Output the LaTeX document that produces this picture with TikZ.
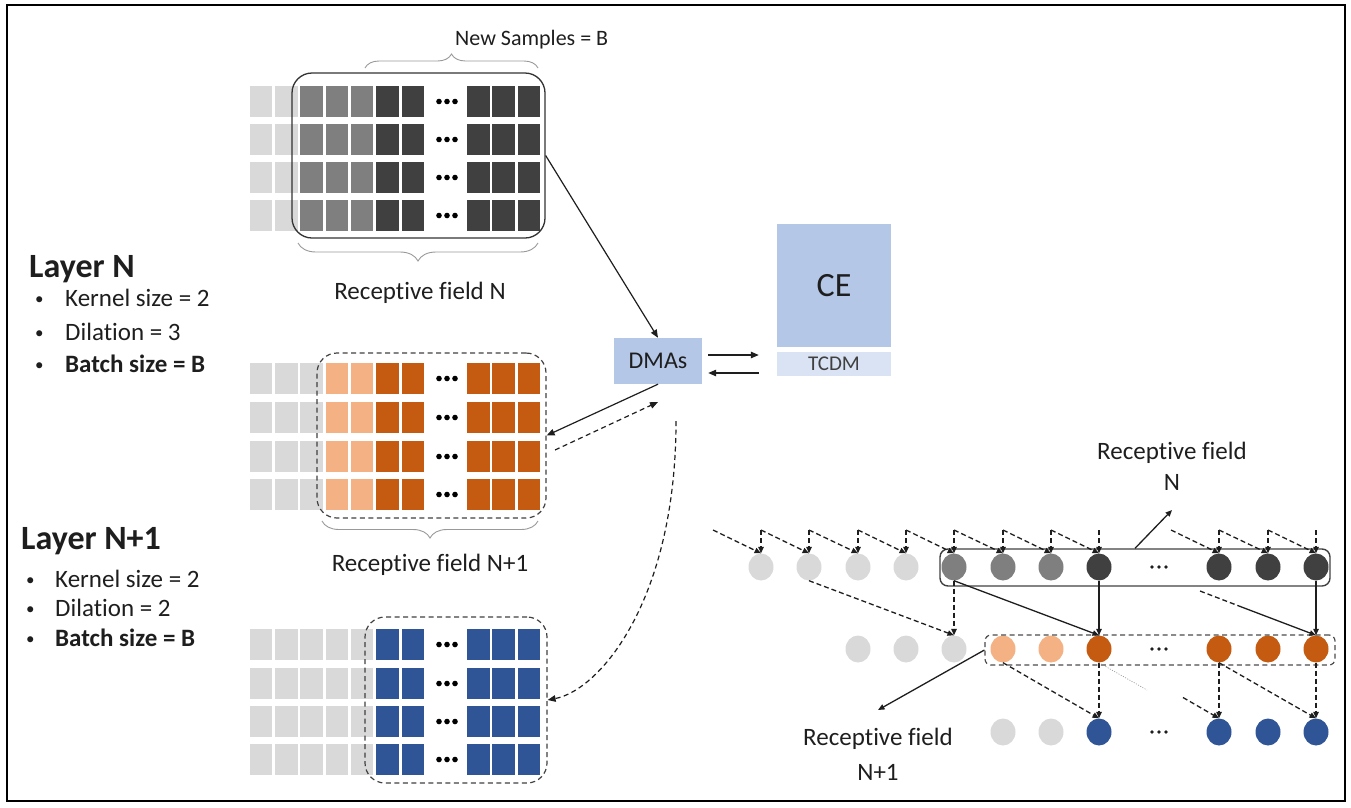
\documentclass[tikz,border=0pt]{standalone}
\usepackage{fontspec}
\setmainfont{Carlito}[Ligatures={NoCommon}]
\usetikzlibrary{arrows.meta,decorations.pathreplacing,shapes.geometric,calc}
\definecolor{lg}{HTML}{D9D9D9}
\definecolor{mg}{HTML}{7F7F7F}
\definecolor{dg}{HTML}{404040}
\definecolor{lo}{HTML}{F4B183}
\definecolor{do}{HTML}{C55A11}
\definecolor{bl}{HTML}{2F5597}
\definecolor{ceb}{HTML}{B4C7E7}
\definecolor{tcb}{HTML}{DAE3F3}
\definecolor{ink}{HTML}{1E1E1E}
\begin{document}
\begin{tikzpicture}[x=1pt,y=-1pt,
  cell/.style={rectangle,minimum width=22.5pt,minimum height=31pt,inner sep=0pt,draw=none,anchor=north west},
  gnode/.style={ellipse,minimum width=25pt,minimum height=27pt,inner sep=0pt,draw=none},
  txt/.style={inner sep=0pt,font=\fontsize{25}{30}\selectfont,text=ink},
  bul/.style={inner sep=0pt,font=\fontsize{17}{20}\selectfont,text=ink},
  arr/.style={-{Triangle[length=8pt,width=6.5pt]},line width=1.2pt,draw=ink},
  sarr/.style={-{Triangle[length=6.5pt,width=5.5pt]},line width=1.3pt,draw=ink},
  dsh/.style={dash pattern=on 5pt off 3.5pt},
  gdash/.style={dash pattern=on 5pt off 3pt},
  brc/.style={draw=black!40,line width=0.9pt,decorate},
  blk/.style={inner sep=0pt,draw=none}]
\useasboundingbox (0,0) rectangle (1351,807);
\draw[line width=2pt,black] (7,5) rectangle (1345,801);

% ---------- left text ----------
\node[txt,anchor=base west,font=\bfseries\fontsize{34}{38}\selectfont] (layN) at (29,277) {Layer N};
\node[bul,anchor=base west] (bu1) at (35,304) {\textbullet};
\node[txt,anchor=base west] (it1) at (65,306) {Kernel size = 2};
\node[bul,anchor=base west] (bu2) at (35,338) {\textbullet};
\node[txt,anchor=base west] (it2) at (65,340) {Dilation = 3};
\node[bul,anchor=base west] (bu3) at (35,370) {\textbullet};
\node[txt,anchor=base west,font=\bfseries\fontsize{25}{30}\selectfont] (it3) at (65,372) {Batch size = B};

\node[txt,anchor=base west,font=\bfseries\fontsize{34}{38}\selectfont] (layN1) at (21,549) {Layer N+1};
\node[bul,anchor=base west] (bu4) at (26,585) {\textbullet};
\node[txt,anchor=base west] (it4) at (55,587) {Kernel size = 2};
\node[bul,anchor=base west] (bu5) at (26,614) {\textbullet};
\node[txt,anchor=base west] (it5) at (55,616) {Dilation = 2};
\node[bul,anchor=base west] (bu6) at (26,644) {\textbullet};
\node[txt,anchor=base west,font=\bfseries\fontsize{25}{30}\selectfont] (it6) at (55,646) {Batch size = B};

% ---------- grids ----------
% top grid
\foreach \r/\yy in {0/86,1/124,2/162,3/200}{
  \foreach \k/\xx/\c in {0/249.5/lg,1/274.8/lg,2/300.1/mg,3/325.4/mg,4/350.7/mg,5/376.0/dg,6/401.3/dg,7/467/dg,8/492.2/dg,9/517.4/dg}{
    \node[cell,fill=\c] (gA-\r-\k) at (\xx,\yy) {};
  }
  \foreach \dx in {439,447,455}{\fill[black] (\dx,\yy+15.5) circle (2.8pt);}
}
% middle grid
\foreach \r/\yy in {0/363,1/402,2/441,3/479}{
  \foreach \k/\xx/\c in {0/249.5/lg,1/274.8/lg,2/300.1/lg,3/325.4/lo,4/350.7/lo,5/376.0/do,6/401.3/do,7/467/do,8/492.2/do,9/517.4/do}{
    \node[cell,fill=\c] (gB-\r-\k) at (\xx,\yy) {};
  }
  \foreach \dx in {439,447,455}{\fill[black] (\dx,\yy+15.5) circle (2.8pt);}
}
% bottom grid
\foreach \r/\yy in {0/629,1/668,2/706,3/744}{
  \foreach \k/\xx/\c in {0/249.5/lg,1/274.8/lg,2/300.1/lg,3/325.4/lg,4/350.7/lg,5/376.0/bl,6/401.3/bl,7/467/bl,8/492.2/bl,9/517.4/bl}{
    \node[cell,fill=\c] (gC-\r-\k) at (\xx,\yy) {};
  }
  \foreach \dx in {439,447,455}{\fill[black] (\dx,\yy+15.5) circle (2.8pt);}
}

% receptive-field boxes
\node[blk,draw=black!80,line width=1.3pt,rounded corners=20pt,minimum width=253pt,minimum height=165pt] (rfA) at (418.5,155.5) {};
\node[blk,draw=black!75,line width=1.2pt,dsh,rounded corners=20pt,minimum width=229pt,minimum height=165pt] (rfB) at (431.5,435.5) {};
\node[blk,draw=black!75,line width=1.2pt,dsh,rounded corners=20pt,minimum width=182pt,minimum height=166pt] (rfC) at (456,700) {};

% braces
\draw[brc,decoration={brace,amplitude=14pt}] (365,68) -- (538,68);
\draw[brc,decoration={brace,amplitude=18pt}] (538,243) -- (298,243);
\draw[brc,decoration={brace,amplitude=17pt}] (538,521) -- (322,521);

\node[txt,anchor=base west,font=\fontsize{22}{26}\selectfont] (ns) at (455,45) {New Samples = B};
\node[txt] (rflA) at (420,293) {Receptive field N};
\node[txt] (rflB) at (430,565) {Receptive field N+1};

% ---------- DMAs / CE ----------
\node[blk,fill=ceb,minimum width=88pt,minimum height=46pt,font=\fontsize{24}{28}\selectfont,text=ink] (dma) at (658,361) {DMAs};
\node[blk,fill=ceb,minimum width=114pt,minimum height=123pt,font=\fontsize{34}{38}\selectfont,text=ink] (ce) at (834,285.5) {CE};
\node[blk,fill=tcb,minimum width=114pt,minimum height=24pt,font=\fontsize{21}{24}\selectfont,text=black!75] (tcdm) at (834,364) {TCDM};

\draw[arr] ($(dma.east)+(6,-6)$) -- ($(tcdm.west)+(-18,-9)$);
\draw[arr] ($(tcdm.west)+(-18,9)$) -- ($(dma.east)+(6,12)$);

\draw[arr] (rfA.east) -- (dma.north);
\draw[arr] (dma.south) -- (rfB.east);
\coordinate (d1) at (555,450);
\coordinate (d2) at (658,402);
\draw[arr,dsh] (d1) -- (d2);
\coordinate (c1) at (676,421);
\draw[arr,dsh] (c1) .. controls (676,600) and (600,690) .. (rfC.east);

% ---------- right graph ----------
\foreach \k/\xx/\c in {0/761/lg,1/809/lg,2/858/lg,3/906/lg,4/954/mg,5/1003/mg,6/1051/mg,7/1099/dg,8/1219/dg,9/1268/dg,10/1316/dg}{
  \node[gnode,fill=\c] (a\k) at (\xx,567) {};
  \coordinate (t\k) at (\xx,530);
}
\foreach \k/\xx/\c in {2/858/lg,3/906/lg,4/954/lg,5/1003/lo,6/1051/lo,7/1099/do,8/1219/do,9/1268/do,10/1316/do}{
  \node[gnode,fill=\c] (b\k) at (\xx,649) {};
}
\foreach \k/\xx/\c in {5/1003/lg,6/1051/lg,7/1099/bl,8/1219/bl,9/1268/bl,10/1316/bl}{
  \node[gnode,fill=\c] (c\k) at (\xx,732) {};
}
\foreach \yy in {567,649,732}{
  \foreach \dx in {1152,1159,1166}{\fill[ink] (\dx,\yy) circle (1.9pt);}
}

\node[blk,draw=black!75,line width=1.4pt,rounded corners=8pt,minimum width=390pt,minimum height=37pt] (rf1) at (1135,567.5) {};
\node[blk,draw=black!70,line width=1.2pt,dsh,rounded corners=6pt,minimum width=350pt,minimum height=30pt] (rf2) at (1160,650) {};

% row 1 inputs
\foreach \k in {0,...,10}{\draw[sarr,gdash] (t\k) -- (a\k.north);}
\coordinate (tm) at (713,530);
\coordinate (tv) at (1171,530);
\draw[sarr,gdash] (tm) -- (a0.north);
\foreach \k/\n in {0/1,1/2,2/3,3/4,4/5,5/6,6/7,8/9,9/10}{\draw[sarr,gdash] (t\k) -- (a\n.north);}
\draw[sarr,gdash] (tv) -- (a8.north);

% row 1 -> row 2
\draw[sarr,gdash] (a1.south) -- (b4.north);
\draw[sarr,gdash] (a4.south) -- (b4.north);
\draw[sarr] (a4.south) -- (b7.north);
\draw[sarr] (a7.south) -- (b7.north);
\draw[sarr] (a10.south) -- (b10.north);
\coordinate (s1) at (1200,591);
\coordinate (s2) at (1240,606.4);
\draw[line width=1.3pt,ink,gdash] (s1) -- (s2);
\draw[sarr] (s2) -- (b10.north);

% row 2 -> row 3
\draw[sarr,gdash] (b5.south) -- (c7.north);
\draw[sarr,gdash] (b7.south) -- (c7.north);
\coordinate (q1) at (1147,690);
\draw[black!45,line width=0.6pt,dash pattern=on 1pt off 1.5pt] (b7.south) -- (q1);
\coordinate (q2) at (1183,697.5);
\draw[sarr,gdash] (q2) -- (c8.north);
\draw[sarr,gdash] (b8.south) -- (c8.north);
\draw[sarr,gdash] (b8.south) -- (c10.north);
\draw[sarr,gdash] (b10.south) -- (c10.north);

% labels
\node[txt] (rfl1) at (1172,453) {Receptive field};
\node[txt] (rfl1b) at (1172,482) {N};
\coordinate (p1) at (1172,510);
\draw[sarr] (rf1.north) -- (p1);
\node[txt] (rfl2) at (878,739) {Receptive field};
\node[txt] (rfl2b) at (878,772) {N+1};
\coordinate (p2) at (878,710);
\draw[sarr] (rf2.west) -- (p2);
\end{tikzpicture}
\end{document}
